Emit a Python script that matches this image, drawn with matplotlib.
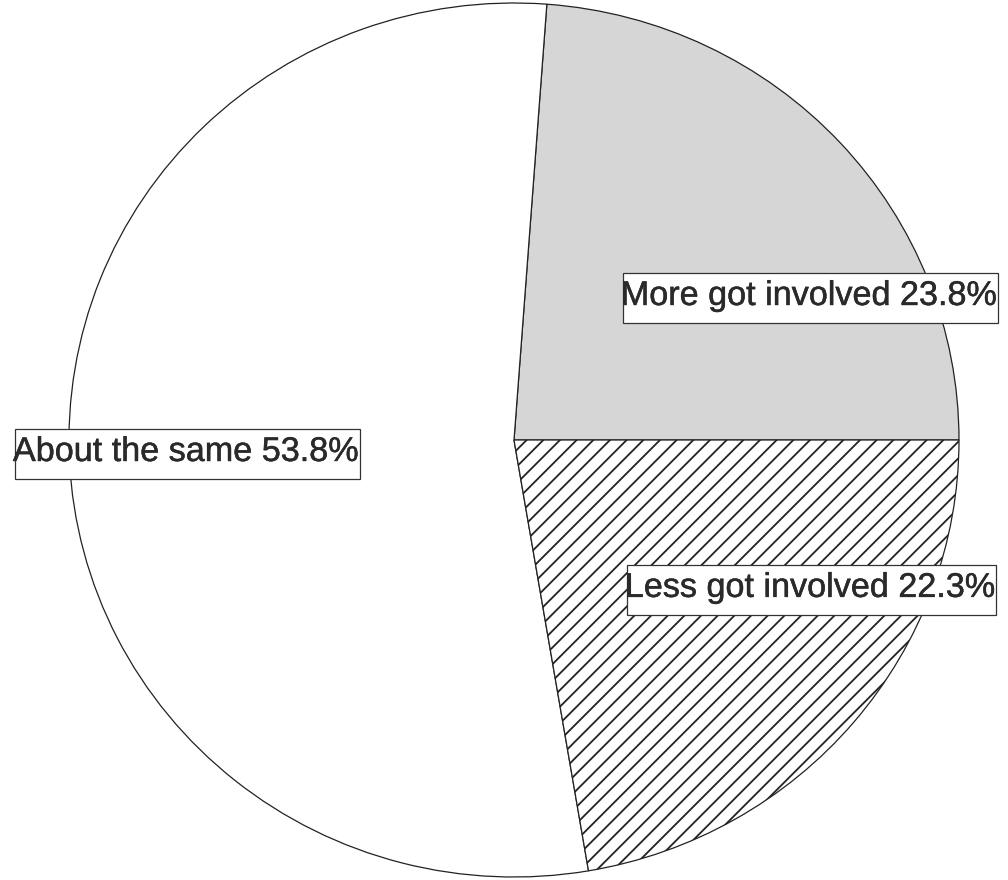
import matplotlib
matplotlib.use("Agg")
import matplotlib.pyplot as plt
import matplotlib.patheffects as pe
from matplotlib.patches import Rectangle

plt.rcParams['font.family'] = ['Liberation Sans', 'DejaVu Sans']
plt.rcParams['hatch.linewidth'] = 1.3

categories = ['More got involved', 'About the same', 'Less got involved']
shares = [23.8, 53.8, 22.3]
fills = ['#d6d6d6', 'white', 'white']
hatches = ['', '', '//']

# label anchors (left edge, baseline) in data units of the pie
label_x = [0.240, -1.126, 0.249]
label_y = [0.309, -0.048, -0.359]

fig = plt.figure(figsize=(10.08, 8.8), dpi=100)
ax = fig.add_axes([0, 0, 1, 1])

wedges, _ = ax.pie(shares, startangle=0, counterclock=True, colors=fills,
                   wedgeprops=dict(edgecolor='#222222', linewidth=0.9))
for w, h in zip(wedges, hatches):
    w.set_hatch(h)

ax.set_aspect('auto')
ax.set_xlim(-514 / 445, 494 / 445)
ax.set_ylim(-440 / 437, 440 / 437)
ax.axis('off')

texts = []
for name, v, x, y in zip(categories, shares, label_x, label_y):
    t = ax.text(x, y, f'{name} {v}%', fontsize=24.6, color='#2a2a2a',
                ha='left', va='baseline', zorder=5,
                path_effects=[pe.withStroke(linewidth=0.35, foreground='#2a2a2a')])
    texts.append(t)

fig.canvas.draw()
renderer = fig.canvas.get_renderer()
inv = ax.transData.inverted()
for t, x, y in zip(texts, label_x, label_y):
    ext = t.get_window_extent(renderer)
    _, base = ax.transData.transform((x, y))
    (x0, y0) = inv.transform((ext.x0 + 2, base - 18))
    (x1, y1) = inv.transform((ext.x1 + 2, base + 32))
    ax.add_patch(Rectangle((x0, y0), x1 - x0, y1 - y0, facecolor='white',
                           edgecolor='#333333', linewidth=0.9, zorder=4))

fig.savefig('out.png', dpi=100)
